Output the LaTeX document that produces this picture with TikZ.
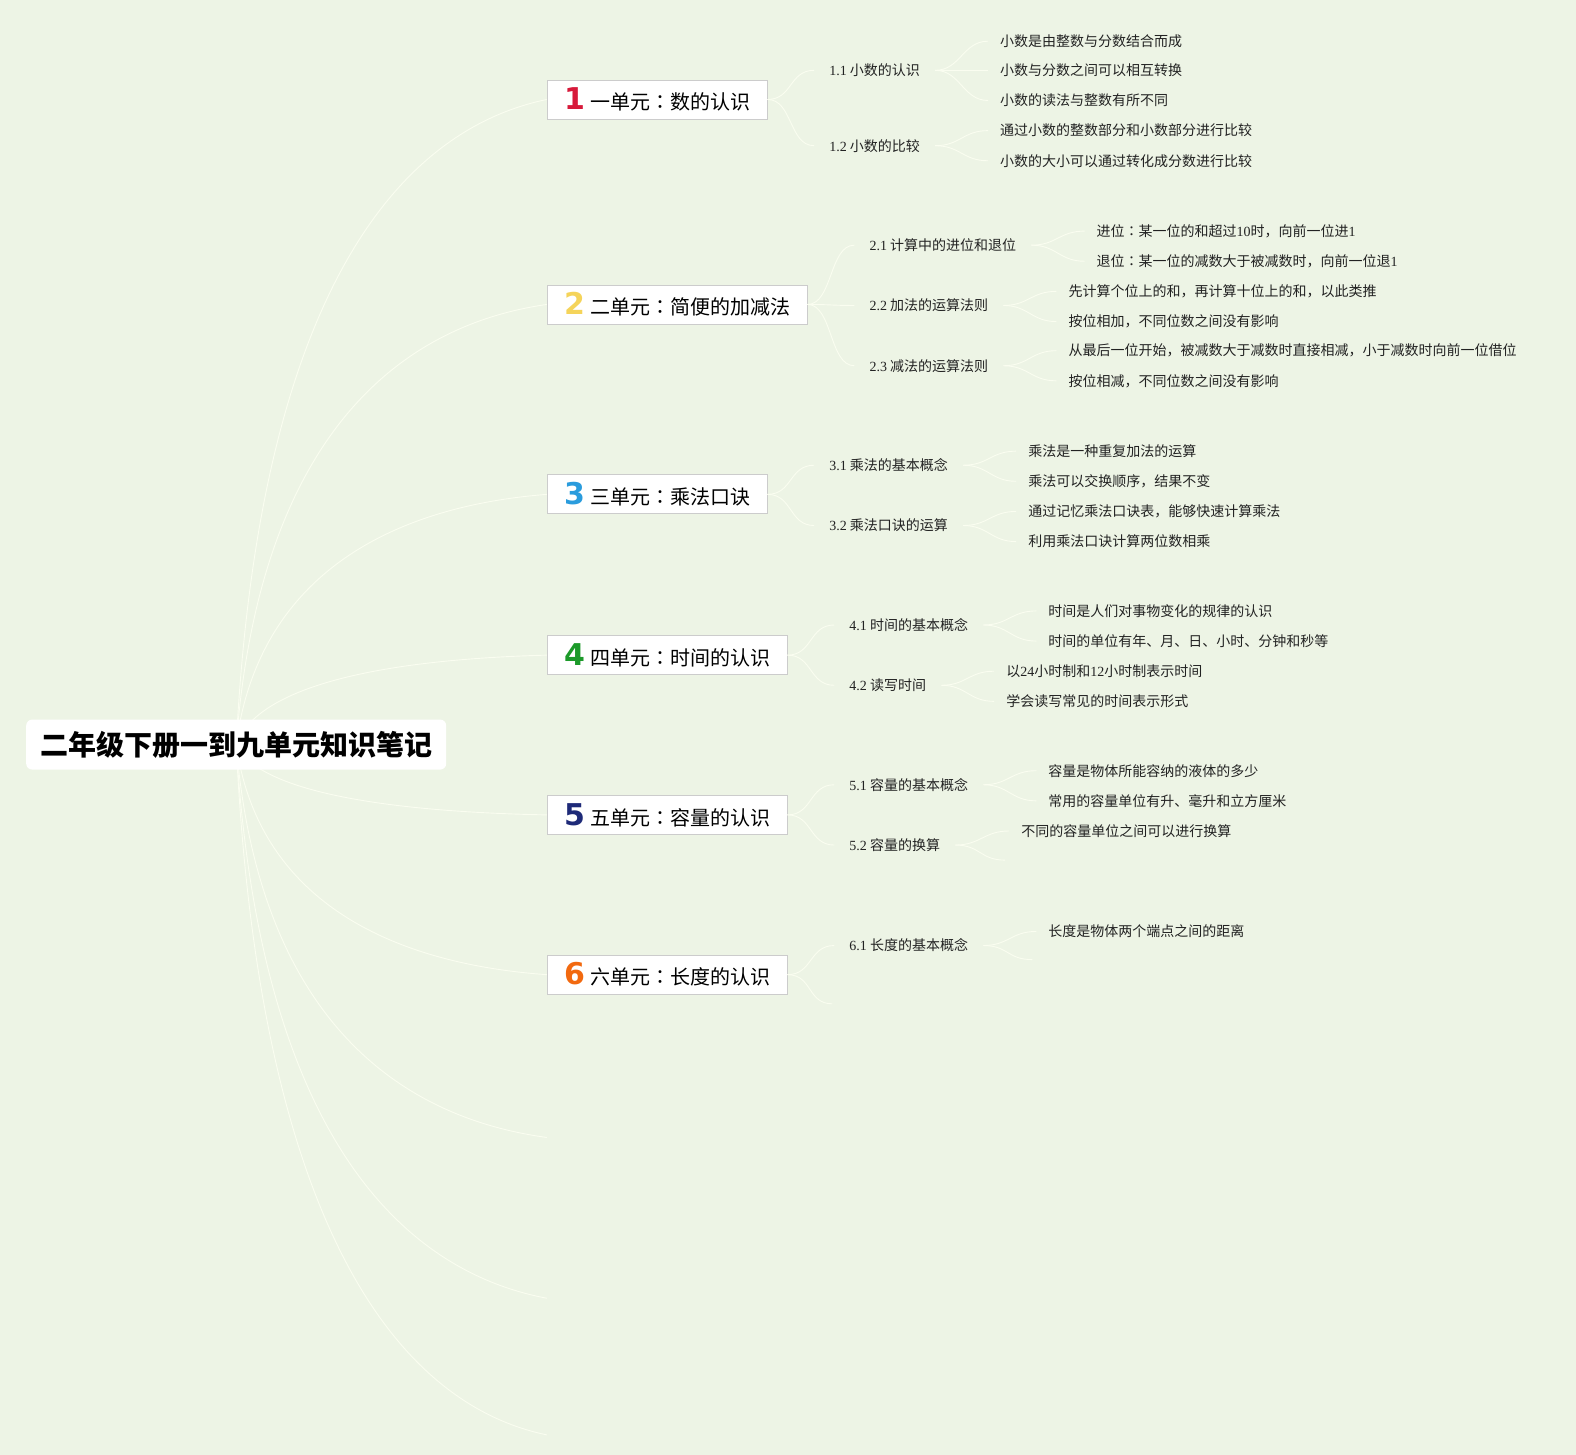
\documentclass[tikz,border=0pt]{standalone}
\usepackage{fontspec}
\setmainfont{Liberation Serif}
\newfontfamily\cjk{Noto Sans CJK SC}
\newfontfamily\cjkjp{Noto Sans CJK JP}
\newfontfamily\latfont{Liberation Serif}
\newfontfamily\digitfont{DejaVu Sans}
\usetikzlibrary{positioning}
\usepackage{xcolor}
\definecolor{mapbg}{HTML}{EDF4E5}
\definecolor{twigwhite}{HTML}{FAFDF0}
\definecolor{boxgrey}{HTML}{CCCCCC}
\definecolor{inkdark}{HTML}{222222}
\definecolor{numred}{HTML}{D7193A}
\definecolor{numyellow}{HTML}{F5D45A}
\definecolor{numblue}{HTML}{2A9CDD}
\definecolor{numgreen}{HTML}{1C9A2A}
\definecolor{numnavy}{HTML}{1E2A78}
\definecolor{numorange}{HTML}{F2690F}
\newcommand{\twig}[2]{% {from}{to}
  \draw[branch] (#1) .. controls +(25,0) and +(-25,0) .. (#2);
}
\newcommand{\unitlabel}[3]{% {colour}{digit}{title}
  {\digitfont\bfseries\fontsize{30}{30}\selectfont\color{#1}#2}\hspace{5pt}#3%
}
\newcommand{\num}[1]{{\latfont #1}}
\newcommand{\jpcolon}{{\cjkjp ：}}

\begin{document}
\begin{tikzpicture}[x=1.0051pt,y=-1.0048pt,
    branch/.style={draw=twigwhite,line width=0.9pt},
    rootbox/.style={fill=white,rounded corners=6pt,minimum width=420pt,minimum height=50pt,
      font=\cjk\bfseries\fontsize{28}{30}\selectfont,text=black},
    unitbox/.style={draw=boxgrey,fill=white,line width=0.8pt,anchor=west,minimum height=39pt,
      inner xsep=17pt,font=\cjk\fontsize{20}{22}\selectfont,text=black},
    subnode/.style={anchor=west,inner xsep=15pt,inner ysep=2pt,
      font=\cjk\fontsize{14}{16}\selectfont,text=inkdark},
    leafnode/.style={anchor=west,inner xsep=12pt,inner ysep=2pt,
      font=\cjk\fontsize{14}{16}\selectfont,text=inkdark}]
  % Background
  \fill[mapbg] (0,0) rectangle (1568,1448);
  % Units
  \node[unitbox] (u1) at (544,99) {\unitlabel{numred}{1}{一单元\jpcolon 数的认识}};
  \node[unitbox] (u2) at (544,303) {\unitlabel{numyellow}{2}{二单元\jpcolon 简便的加减法}};
  \node[unitbox] (u3) at (544,492) {\unitlabel{numblue}{3}{三单元\jpcolon 乘法口诀}};
  \node[unitbox] (u4) at (544,652) {\unitlabel{numgreen}{4}{四单元\jpcolon 时间的认识}};
  \node[unitbox] (u5) at (544,811) {\unitlabel{numnavy}{5}{五单元\jpcolon 容量的认识}};
  \node[unitbox] (u6) at (544,970) {\unitlabel{numorange}{6}{六单元\jpcolon 长度的认识}};
  % Unit 1
  \node[subnode] (s11) at (810,70) {\num{1.1} 小数的认识};
  \node[subnode] (s12) at (810,145) {\num{1.2} 小数的比较};
  \node[leafnode] (l111) at (983,41) {小数是由整数与分数结合而成};
  \node[leafnode] (l112) at (983,70) {小数与分数之间可以相互转换};
  \node[leafnode] (l113) at (983,100) {小数的读法与整数有所不同};
  \node[leafnode] (l121) at (983,130) {通过小数的整数部分和小数部分进行比较};
  \node[leafnode] (l122) at (983,160) {小数的大小可以通过转化成分数进行比较};
  % Unit 2
  \node[subnode] (s21) at (850,244) {\num{2.1} 计算中的进位和退位};
  \node[subnode] (s22) at (850,304) {\num{2.2} 加法的运算法则};
  \node[subnode] (s23) at (850,364) {\num{2.3} 减法的运算法则};
  \node[leafnode] (l211) at (1079,230) {进位\jpcolon 某一位的和超过\num{10}时，向前一位进\num{1}};
  \node[leafnode] (l212) at (1079,260) {退位\jpcolon 某一位的减数大于被减数时，向前一位退\num{1}};
  \node[leafnode] (l221) at (1051,290) {先计算个位上的和，再计算十位上的和，以此类推};
  \node[leafnode] (l222) at (1051,320) {按位相加，不同位数之间没有影响};
  \node[leafnode] (l231) at (1051,349) {从最后一位开始，被减数大于减数时直接相减，小于减数时向前一位借位};
  \node[leafnode] (l232) at (1051,379) {按位相减，不同位数之间没有影响};
  % Unit 3
  \node[subnode] (s31) at (810,463) {\num{3.1} 乘法的基本概念};
  \node[subnode] (s32) at (810,523) {\num{3.2} 乘法口诀的运算};
  \node[leafnode] (l311) at (1011,449) {乘法是一种重复加法的运算};
  \node[leafnode] (l312) at (1011,479) {乘法可以交换顺序，结果不变};
  \node[leafnode] (l321) at (1011,509) {通过记忆乘法口诀表，能够快速计算乘法};
  \node[leafnode] (l322) at (1011,539) {利用乘法口诀计算两位数相乘};
  % Unit 4
  \node[subnode] (s41) at (830,622) {\num{4.1} 时间的基本概念};
  \node[subnode] (s42) at (830,682) {\num{4.2} 读写时间};
  \node[leafnode] (l411) at (1031,608) {时间是人们对事物变化的规律的认识};
  \node[leafnode] (l412) at (1031,638) {时间的单位有年、月、日、小时、分钟和秒等};
  \node[leafnode] (l421) at (989,668) {以\num{24}小时制和\num{12}小时制表示时间};
  \node[leafnode] (l422) at (989,698) {学会读写常见的时间表示形式};
  % Unit 5
  \node[subnode] (s51) at (830,781) {\num{5.1} 容量的基本概念};
  \node[subnode] (s52) at (830,841) {\num{5.2} 容量的换算};
  \node[leafnode] (l511) at (1031,767) {容量是物体所能容纳的液体的多少};
  \node[leafnode] (l512) at (1031,797) {常用的容量单位有升、毫升和立方厘米};
  \node[leafnode] (l521) at (1004,827) {不同的容量单位之间可以进行换算};
  \coordinate (e522) at (1000,856);
  % Unit 6
  \node[subnode] (s61) at (830,941) {\num{6.1} 长度的基本概念};
  \node[leafnode] (l611) at (1031,927) {长度是物体两个端点之间的距离};
  \coordinate (e612) at (1027,955);
  \coordinate (e62) at (828,999);
  % Twigs
  \twig{u1.east}{s11.west} \twig{u1.east}{s12.west}
  \twig{s11.east}{l111.west} \twig{s11.east}{l112.west} \twig{s11.east}{l113.west}
  \twig{s12.east}{l121.west} \twig{s12.east}{l122.west}
  \twig{u2.east}{s21.west} \twig{u2.east}{s22.west} \twig{u2.east}{s23.west}
  \twig{s21.east}{l211.west} \twig{s21.east}{l212.west}
  \twig{s22.east}{l221.west} \twig{s22.east}{l222.west}
  \twig{s23.east}{l231.west} \twig{s23.east}{l232.west}
  \twig{u3.east}{s31.west} \twig{u3.east}{s32.west}
  \twig{s31.east}{l311.west} \twig{s31.east}{l312.west}
  \twig{s32.east}{l321.west} \twig{s32.east}{l322.west}
  \twig{u4.east}{s41.west} \twig{u4.east}{s42.west}
  \twig{s41.east}{l411.west} \twig{s41.east}{l412.west}
  \twig{s42.east}{l421.west} \twig{s42.east}{l422.west}
  \twig{u5.east}{s51.west} \twig{u5.east}{s52.west}
  \twig{s51.east}{l511.west} \twig{s51.east}{l512.west}
  \twig{s52.east}{l521.west} \twig{s52.east}{e522}
  \twig{u6.east}{s61.west} \twig{u6.east}{e62}
  \twig{s61.east}{l611.west} \twig{s61.east}{e612}
  % Root branches
  \coordinate (hub) at (235,741);
  \coordinate (e7) at (544,1132);
  \coordinate (e8) at (544,1292);
  \coordinate (e9) at (544,1428);
  \draw[branch] (hub) .. controls (257,304) and (390,131) .. (u1.west);
  \draw[branch] (hub) .. controls (257,443) and (390,325) .. (u2.west);
  \draw[branch] (hub) .. controls (257,572) and (390,504) .. (u3.west);
  \draw[branch] (hub) .. controls (257,680) and (390,656) .. (u4.west);
  \draw[branch] (hub) .. controls (257,789) and (390,808) .. (u5.west);
  \draw[branch] (hub) .. controls (257,897) and (390,959) .. (u6.west);
  \draw[branch] (hub) .. controls (257,1006) and (390,1111) .. (e7);
  \draw[branch] (hub) .. controls (257,1114) and (390,1263) .. (e8);
  \draw[branch] (hub) .. controls (257,1209) and (390,1396) .. (e9);
  % Root
  \node[rootbox] (root) at (hub) {二年级下册一到九单元知识笔记};
\end{tikzpicture}
\end{document}
